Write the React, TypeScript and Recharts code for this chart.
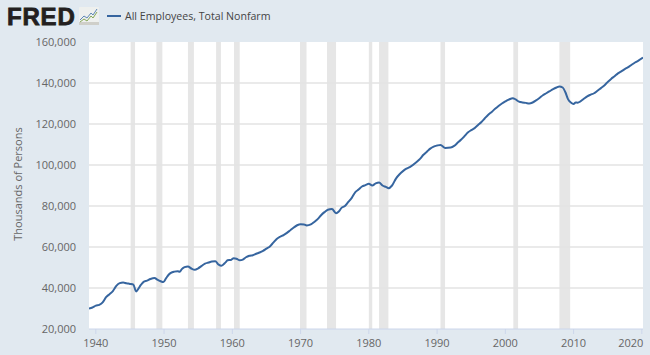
import React from "react";
import { LineChart, Line, XAxis, YAxis, CartesianGrid, ReferenceArea, ReferenceLine } from "recharts";

const years = [1939,1939.5,1940,1940.5,1941,1941.5,1942,1942.5,1943,1943.5,1944,1944.5,1945,1945.5,1945.9,1946.2,1946.6,1947,1947.5,1948,1948.6,1949,1949.5,1949.9,1950.3,1950.7,1951,1951.5,1952,1952.3,1952.6,1953,1953.5,1954,1954.5,1955,1955.5,1956,1956.5,1957,1957.5,1958,1958.4,1959,1959.3,1959.8,1960.2,1960.6,1961.1,1961.6,1962,1962.5,1963,1963.5,1964,1964.5,1965,1965.5,1966,1966.5,1967,1967.5,1968,1968.5,1969,1969.5,1970,1970.5,1970.9,1971.5,1972,1972.5,1973,1973.5,1974,1974.6,1975.2,1975.6,1976,1976.5,1977,1977.5,1978,1978.5,1979,1979.5,1980,1980.5,1981,1981.5,1982,1982.5,1982.9,1983.4,1984,1984.5,1985,1985.5,1986,1987,1987.5,1988,1988.5,1989,1989.5,1990,1990.5,1991.2,1992,1992.5,1993,1993.5,1994,1994.5,1995,1995.5,1996,1996.5,1997,1997.5,1998,1998.5,1999,1999.5,2000,2000.5,2001.1,2001.5,2002,2002.5,2003,2003.5,2004,2004.5,2005,2005.5,2006,2006.5,2007,2007.5,2007.9,2008.4,2008.8,2009.2,2009.6,2010,2010.3,2010.6,2011,2011.5,2012,2012.5,2013,2013.5,2014,2014.5,2015,2015.5,2016,2016.5,2017,2017.5,2018,2018.5,2019,2019.5,2020.17];
const employees = [30000,30500,31400,31800,33000,35500,37000,38500,41000,42400,42700,42300,42000,41600,38300,39500,41500,43000,43600,44400,44900,44100,43300,42900,44800,46600,47400,48000,48200,47900,49200,50200,50500,49500,48900,49600,50800,51900,52400,52900,53000,51400,50900,52500,53500,53700,54500,54300,53500,54000,55000,55700,56000,56700,57300,58100,59200,60300,62100,63900,65000,65800,66900,68200,69500,70600,71100,71000,70500,71000,72200,73600,75500,77000,78200,78500,76500,77300,79100,80000,82000,84000,86700,88000,89500,90200,90800,90000,91000,91500,90000,89300,88700,90000,93500,95500,97000,98200,99000,101500,103000,105000,106500,108000,109000,109500,109800,108300,108500,109300,110800,112300,114000,115800,117000,118000,119500,121000,122800,124500,125900,127400,128800,130000,131000,131900,132600,132000,130900,130500,130300,130000,130500,131500,132700,134000,135000,136000,137000,137800,138300,137800,135500,132000,130500,129800,130500,130400,131000,132300,133500,134300,135000,136200,137500,138800,140500,142000,143300,144700,145700,146800,147700,148900,150000,150900,152400];
const recessionStarts = [1945.1,1948.87,1953.5,1957.62,1960.25,1969.92,1973.87,1980,1981.5,1990.5,2001.17,2007.92];
const recessionEnds = [1945.75,1949.75,1954.37,1958.33,1961.08,1970.87,1975.2,1980.5,1982.87,1991.17,2001.87,2009.5];
const xTicks = [1940,1950,1960,1970,1980,1990,2000,2010,2020];
const yTicks = [20000,40000,60000,80000,100000,120000,140000,160000];
const seriesName = "All Employees, Total Nonfarm";
const yLabel = "Thousands of Persons";
const rows = years.map((year, i) => ({ year, value: employees[i] }));

const FONT = "'Open Sans', sans-serif";

const XTick = (props: any) => {
  const { x, y, payload } = props;
  const dx = payload.value === 2020 ? -11 : 0;
  return (
    <text x={x + dx} y={y + 11} textAnchor="middle" fontFamily={FONT} fontSize={11} fill="#666">
      {payload.value}
    </text>
  );
};

export default function App() {
  return (
    <div style={{ position: "absolute", left: 0, top: 0, width: 650, height: 355, background: "#e1e9f0", overflow: "hidden" }}>
      <LineChart width={650} height={355} data={rows} margin={{ top: 42, right: 7, bottom: 0, left: 0 }}>
        <CartesianGrid horizontal={false} vertical={false} fill="#ffffff" />
        {recessionStarts.map((s, i) => (
          <ReferenceArea key={s} x1={s} x2={recessionEnds[i]} y1={20000} y2={160000} fill="#e6e6e6" fillOpacity={1} stroke="none" ifOverflow="hidden" />
        ))}
        {yTicks.slice(1, -1).map((v) => (
          <ReferenceLine key={v} y={v} stroke="#e3e3e3" strokeWidth={1.5} />
        ))}
        <XAxis dataKey="year" type="number" domain={[1939, 2020.17]} ticks={xTicks} tick={<XTick />} tickSize={5} axisLine={{ stroke: "#ccd6eb" }} tickLine={{ stroke: "#ccd6eb" }} height={26} interval={0} allowDataOverflow />
        <YAxis type="number" width={89} domain={[20000, 160000]} ticks={yTicks} axisLine={false} tickLine={false} tickSize={0} tickMargin={13} interval={0} tickFormatter={(v: number) => v.toLocaleString("en-US")} tick={{ fontFamily: FONT, fontSize: 11, fill: "#666" }} />
        <Line dataKey="value" name={seriesName} type="monotone" stroke="#36659f" strokeWidth={2} dot={false} isAnimationActive={false} />
      </LineChart>
      <div style={{ position: "absolute", left: 7, top: 0, fontFamily: "'Liberation Sans', sans-serif", fontWeight: 700, fontSize: 24, lineHeight: "33px", color: "#231f20", letterSpacing: 0.8, WebkitTextStroke: "0.8px #231f20" }}>FRED</div>
      <svg style={{ position: "absolute", left: 79, top: 7 }} width={20} height={19}>
        <rect x={0} y={0} width={20} height={18} rx={1} fill="#eef0ee" />
        <rect x={0} y={15} width={20} height={3} fill="#cfcfc9" />
        <polyline points="1,13 5,9 8,11 12,6 14,8 18,2" fill="none" stroke="#5f87b5" strokeWidth={1} />
        <polyline points="1,15 5,12 8,14 12,9 14,11 18,5" fill="none" stroke="#86a85a" strokeWidth={1} />
      </svg>
      <div style={{ position: "absolute", left: 107, top: 15, width: 14, height: 2, background: "#36659f" }} />
      <div style={{ position: "absolute", left: 125, top: 7, fontFamily: FONT, fontSize: 10.6, lineHeight: "18px", color: "#444", whiteSpace: "nowrap" }}>{seriesName}</div>
      <div style={{ position: "absolute", left: 17, top: 184, transform: "translate(-50%,-50%) rotate(-90deg)", fontFamily: FONT, fontSize: 11, color: "#666", whiteSpace: "nowrap" }}>{yLabel}</div>
    </div>
  );
}
